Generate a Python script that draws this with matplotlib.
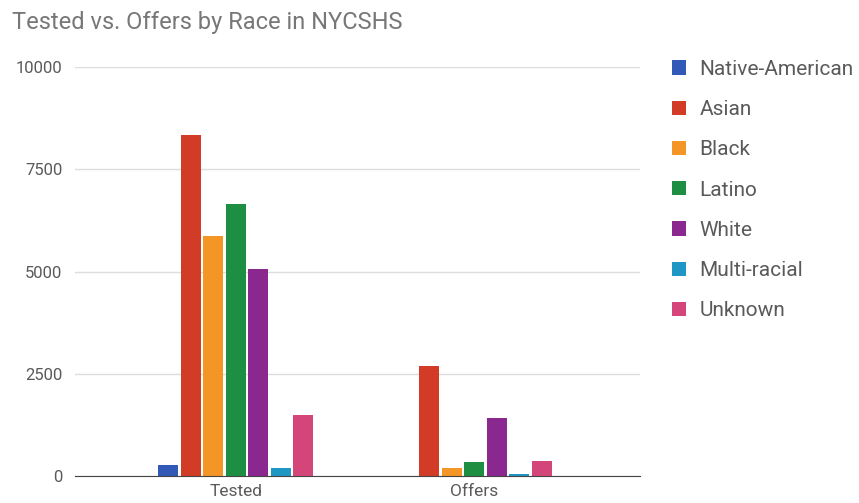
import numpy as np
import matplotlib.pyplot as plt

plt.rcParams['font.family'] = ['Roboto', 'DejaVu Sans']

groups = ['Tested', 'Offers']
races = ['Native-American', 'Asian', 'Black', 'Latino', 'White', 'Multi-racial', 'Unknown']
tested = [270, 8350, 5860, 6640, 5070, 200, 1500]
offers = [5, 2680, 200, 330, 1430, 50, 375]
colors = ['#3259b8', '#d23c26', '#f39625', '#1e8e42', '#8b2890', '#1f97c4', '#d4467a']

fig = plt.figure(figsize=(8.59, 5.03), dpi=100)
ax = fig.add_axes([0.0873, 0.0537, 0.658, 0.813])

x = np.arange(len(groups))
step = 0.0945
width = 0.084
for i, race in enumerate(races):
    vals = [tested[i], offers[i]]
    ax.bar(x + (i - 3) * step, vals, width, color=colors[i], label=race, zorder=3)

ax.set_xlim(-0.676, 1.698)
ax.set_ylim(0, 10000)
ax.set_yticks([0, 2500, 5000, 7500, 10000])
ax.set_xticks(x)
ax.set_xticklabels(groups, fontsize=12.5)
ax.tick_params(axis='both', length=0, colors='#5a5a5a')
ax.tick_params(axis='y', pad=9, labelsize=12)
ax.tick_params(axis='x', pad=6)
ax.grid(axis='y', color='#dddddd', linewidth=1, zorder=0)
for s in ['top', 'right', 'left']:
    ax.spines[s].set_visible(False)
ax.spines['bottom'].set_color('#444444')
ax.spines['bottom'].set_zorder(4)

fig.text(0.014, 0.956, 'Tested vs. Offers by Race in NYCSHS', fontsize=17,
         color='#777777', va='center', ha='left')

fig.legend(loc='upper left', bbox_to_anchor=(0.782, 0.881), frameon=False,
           fontsize=15, labelcolor='#5a5a5a', handlelength=0.67, handleheight=0.67,
           labelspacing=1.02, handletextpad=0.67, borderaxespad=0, borderpad=0)

fig.savefig('out.png', dpi=100)
